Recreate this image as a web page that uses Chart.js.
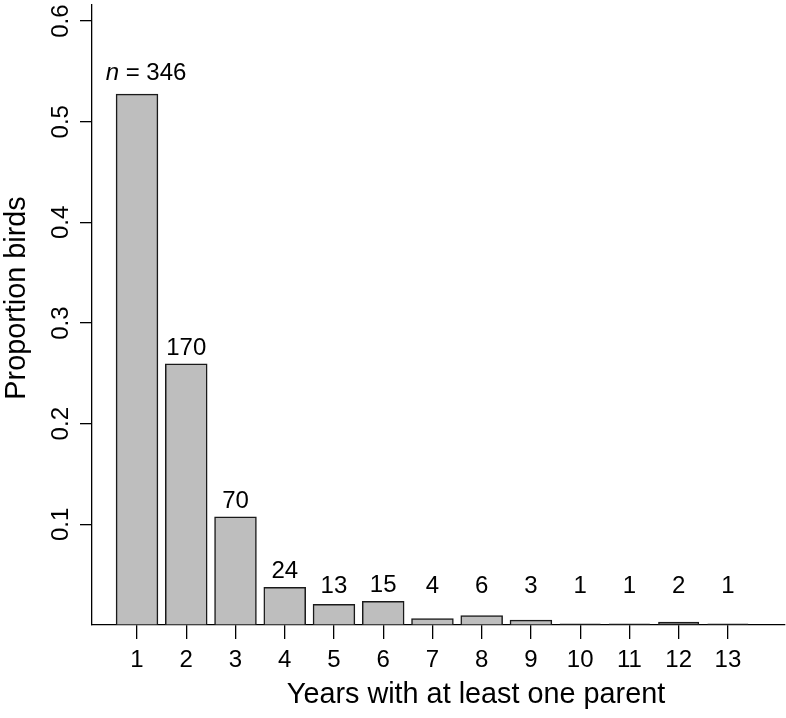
<!DOCTYPE html>
<html>
<head>
<meta charset="utf-8">
<script src="https://cdn.jsdelivr.net/npm/chart.js@4/dist/chart.umd.min.js"></script>
<style>
  html, body { margin: 0; padding: 0; background: #fff; }
  canvas { display: block; }
</style>
</head>
<body>
<canvas id="graficoAves" width="786" height="718"></canvas>
<script>
const years = [1, 2, 3, 4, 5, 6, 7, 8, 9, 10, 11, 12, 13];
const proportion = [0.527, 0.259, 0.107, 0.037, 0.020, 0.023, 0.006, 0.009, 0.0045, 0.0015, 0.0015, 0.0033, 0.0015];
const counts = [346, 170, 70, 24, 13, 15, 4, 6, 3, 1, 1, 2, 1];
const yTicks = [0.1, 0.2, 0.3, 0.4, 0.5, 0.6];

const FONT = '"Liberation Sans", Arial, Helvetica, sans-serif';

// text bits drawn by hand: rotated y labels, axis titles, counts above bars
const extras = {
  id: 'extras',
  afterDraw(chart) {
    const ctx = chart.ctx;
    const xs = chart.scales.x;
    const ys = chart.scales.y;
    const area = chart.chartArea;
    ctx.save();
    ctx.fillStyle = '#000';

    ctx.font = '24px ' + FONT;
    ctx.textAlign = 'center';
    ctx.textBaseline = 'alphabetic';
    ys.ticks.forEach(t => {
      ctx.save();
      ctx.translate(area.left - 24, ys.getPixelForValue(t.value));
      ctx.rotate(-Math.PI / 2);
      ctx.fillText(t.value.toFixed(1), 0, 0);
      ctx.restore();
    });

    ctx.font = '28.8px ' + FONT;
    ctx.save();
    ctx.translate(25, 298);
    ctx.rotate(-Math.PI / 2);
    ctx.fillText('Proportion birds', 0, 0);
    ctx.restore();
    ctx.fillText('Years with at least one parent', 476, 703);

    ctx.font = '24px ' + FONT;
    counts.forEach((n, i) => {
      const px = xs.getPixelForValue(years[i]);
      const py = ys.getPixelForValue(Math.max(proportion[i], 0.0225) + 0.0095);
      if (i === 0) {
        ctx.font = 'italic 24px ' + FONT;
        const w1 = ctx.measureText('n').width;
        ctx.font = '24px ' + FONT;
        const rest = ' = ' + n;
        const w2 = ctx.measureText(rest).width;
        const x0 = px + 9 - (w1 + w2) / 2;
        ctx.textAlign = 'left';
        ctx.font = 'italic 24px ' + FONT;
        ctx.fillText('n', x0, py - 5);
        ctx.font = '24px ' + FONT;
        ctx.fillText(rest, x0 + w1, py - 5);
        ctx.textAlign = 'center';
      } else {
        ctx.fillText(String(n), px, py);
      }
    });
    ctx.restore();
  }
};

const ctx = document.getElementById('graficoAves').getContext('2d');

const graficoAves = new Chart(ctx, {
  type: 'bar',
  data: {
    datasets: [{
      label: 'Proportion birds',
      data: years.map((y, i) => ({ x: y, y: proportion[i] })),
      backgroundColor: '#bebebe',
      borderColor: '#1a1a1a',
      borderWidth: 1.5,
      borderSkipped: false,
      // thin bars: no inflate, otherwise the fill covers the outline
      inflateAmount: c => (proportion[c.dataIndex] < 0.004 ? 0 : 0.75),
      categoryPercentage: 1,
      barPercentage: 0.833
    }]
  },
  options: {
    responsive: false,
    animation: false,
    devicePixelRatio: 1,
    layout: {
      padding: { left: 80, top: 5, right: 1, bottom: 37 }
    },
    plugins: {
      legend: { display: false },
      tooltip: { enabled: false }
    },
    scales: {
      x: {
        type: 'linear',
        min: 0.086,
        max: 14.16,
        offset: false,
        afterBuildTicks: s => { s.ticks = years.map(v => ({ value: v })); },
        ticks: {
          color: '#000',
          font: { family: FONT, size: 24 },
          padding: 6.6,
          maxRotation: 0,
          autoSkip: false,
          callback: v => String(v)
        },
        grid: {
          offset: false,
          drawOnChartArea: false,
          drawTicks: true,
          tickLength: 14,
          color: '#000',
          lineWidth: 1.3
        },
        border: { display: true, color: '#000', width: 1.3 }
      },
      y: {
        min: 0,
        max: 0.616,
        afterBuildTicks: s => { s.ticks = yTicks.map(v => ({ value: v })); },
        ticks: { display: false },
        grid: {
          drawOnChartArea: false,
          drawTicks: true,
          tickLength: 12,
          color: '#000',
          lineWidth: 1.3
        },
        border: { display: true, color: '#000', width: 1.3 }
      }
    }
  },
  plugins: [extras]
});
</script>
</body>
</html>
